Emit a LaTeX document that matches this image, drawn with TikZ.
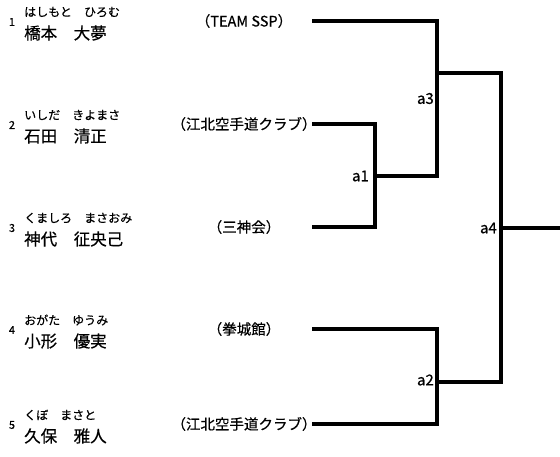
\documentclass[tikz,border=0pt]{standalone}
\usepackage{fontspec}
\setmainfont[FakeBold=0.5]{Noto Sans CJK JP}
\begin{document}
\begin{tikzpicture}[x=1pt,y=-1pt,
  br/.style={line width=3.8pt, line join=miter},
  num/.style={inner sep=0pt, font=\fontsize{11}{11}\selectfont},
  furi/.style={anchor=west, inner sep=0pt, font=\fontsize{12}{12}\selectfont},
  pname/.style={anchor=west, inner sep=0pt, font=\fontsize{16.5}{17}\selectfont},
  team/.style={inner sep=0pt, font=\fontsize{14.5}{15}\selectfont},
  lab/.style={anchor=east, inner sep=0pt, font=\fontsize{15}{15}\selectfont}]
\useasboundingbox (0,0) rectangle (560,456);
% entries
\foreach \i/\L/\f/\n/\t in {1/21/はしもと　ひろむ/橋本　大夢/（TEAM SSP）,
                            2/124/いしだ　きよまさ/石田　清正/（江北空手道クラブ）,
                            3/227/くましろ　まさおみ/神代　征央己/（三神会）,
                            4/329/おがた　ゆうみ/小形　優実/（拳城館）,
                            5/424/くぼ　まさと/久保　雅人/（江北空手道クラブ）}{
  \node[num] (num\i) at (12,\L+1) {\i};
  \node[furi] (furi\i) at (24,\L-9) {\f};
  \node[pname] (name\i) at (24,\L+12) {\n};
  \node[team] (team\i) at (244,\L) {\t};
  \coordinate (s\i) at (312,\L);
}
% junctions
\coordinate (j1) at (375,176);
\coordinate (j3) at (437,73);
\coordinate (j2) at (437,382);
\coordinate (j4) at (501,228);
\coordinate (fin) at (560,228);
\draw[br] (s1) -| (j1 -| j3) -- (j1);
\draw[br] (s2) -| (j1) |- (s3);
\draw[br] (j3) -| (j2 -| j4) -- (j2);
\draw[br] (s4) -| (j2) |- (s5);
\draw[br] (j4) -- (fin);
% labels
\node[lab] (la1) at (369,176) {a1};
\node[lab] (la3) at (434,98.5) {a3};
\node[lab] (la4) at (497,228) {a4};
\node[lab] (la2) at (434,380) {a2};
\end{tikzpicture}
\end{document}
